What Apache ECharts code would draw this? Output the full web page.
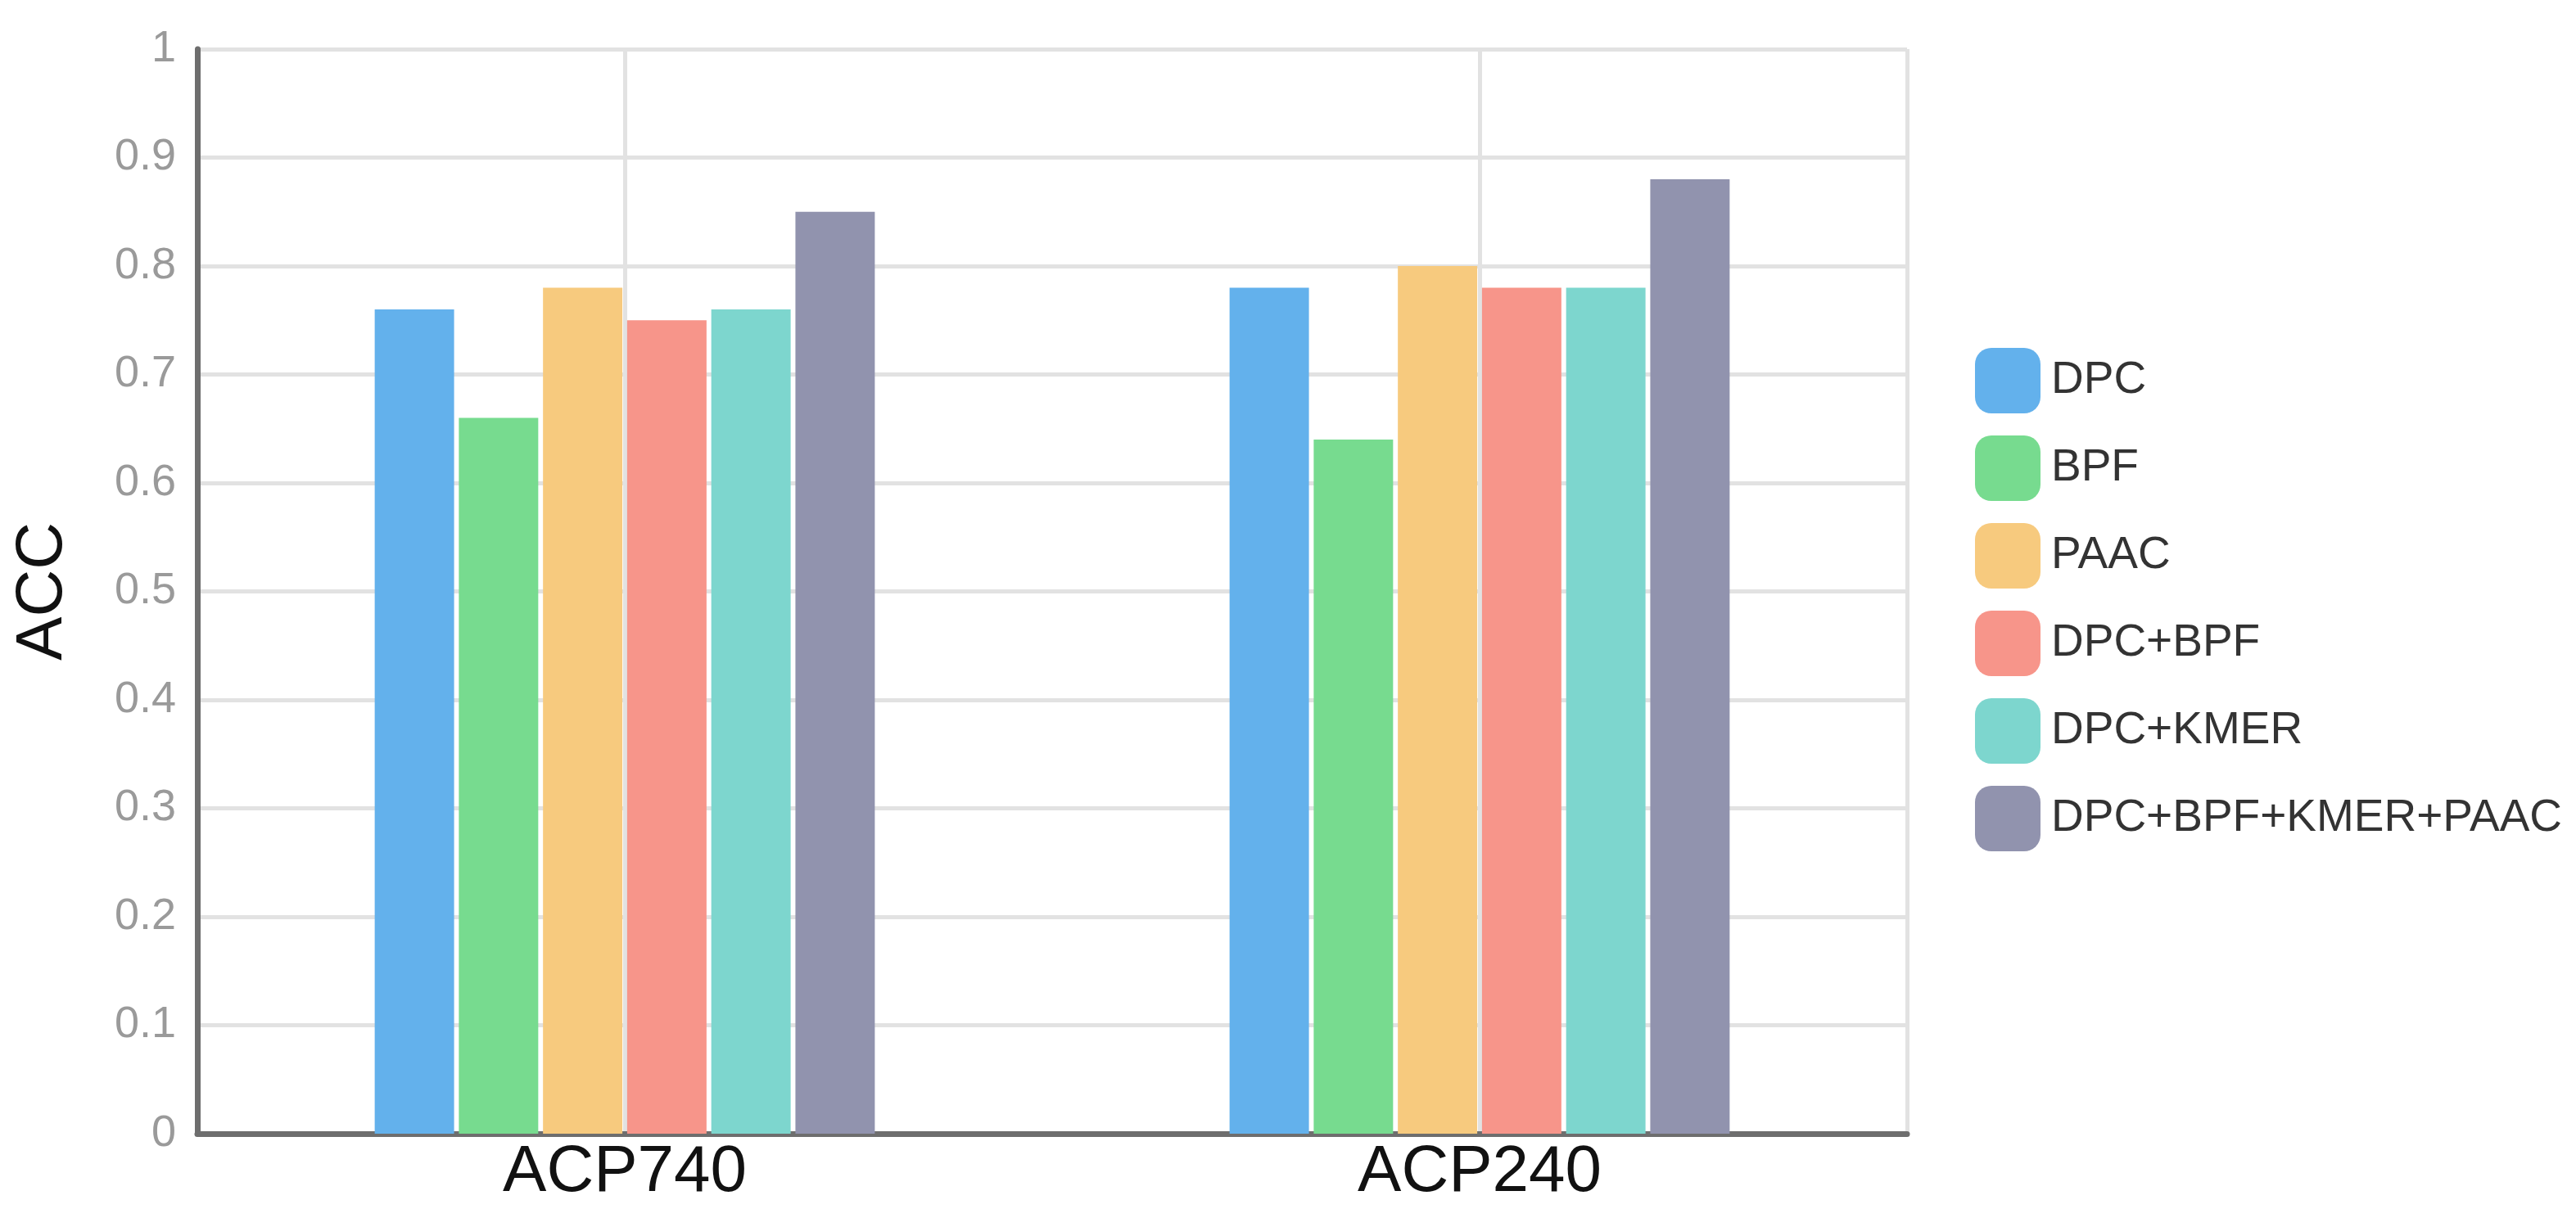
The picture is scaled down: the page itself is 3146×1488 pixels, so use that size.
<!DOCTYPE html>
<html>
<head>
<meta charset="utf-8">
<script src="https://cdn.jsdelivr.net/npm/echarts@6/dist/echarts.min.js"></script>
<style>
html,body{margin:0;padding:0;background:#fff;}
#chart{width:3146px;height:1488px;}
</style>
</head>
<body>
<div id="chart"></div>
<script>
const categories = ['ACP740', 'ACP240'];
const seriesNames = ['DPC', 'BPF', 'PAAC', 'DPC+BPF', 'DPC+KMER', 'DPC+BPF+KMER+PAAC'];
const DPC = [0.76, 0.78];
const BPF = [0.66, 0.64];
const PAAC = [0.78, 0.80];
const DPC_BPF = [0.75, 0.78];
const DPC_KMER = [0.76, 0.78];
const ALL = [0.85, 0.88];
const colors = ['#63b1ec', '#77db8f', '#f7ca7e', '#f7958a', '#7dd6ce', '#9193ae'];

const values = [DPC, BPF, PAAC, DPC_BPF, DPC_KMER, ALL];

const chart = echarts.init(document.getElementById('chart'), null, {renderer: 'canvas'});
const font = '"Liberation Sans", Arial, sans-serif';

chart.setOption({
  backgroundColor: '#ffffff',
  animation: false,
  color: colors,
  textStyle: {fontFamily: font},
  grid: {left: 241, right: 817, top: 60, bottom: 103, containLabel: false},
  legend: {
    orient: 'vertical',
    left: 2412,
    top: 425,
    itemWidth: 80,
    itemHeight: 80,
    itemGap: 27,
    icon: 'roundRect',
    padding: 0,
    data: seriesNames,
    textStyle: {fontSize: 55, color: '#333', fontFamily: font, padding: [0, 0, 0, 8]}
  },
  xAxis: [{
    type: 'category',
    data: categories,
    axisLine: {show: true, lineStyle: {color: '#6e6e6e', width: 7}},
    axisTick: {show: false},
    axisLabel: {fontSize: 80, color: '#111', margin: 8, fontFamily: font},
    splitLine: {show: false}
  }, {
    type: 'value',
    min: 0,
    max: 4,
    interval: 1,
    position: 'top',
    axisLine: {show: false},
    axisTick: {show: false},
    axisLabel: {show: false},
    splitLine: {show: true, lineStyle: {color: ['rgba(0,0,0,0)', '#e2e2e2', 'rgba(0,0,0,0)', '#e2e2e2', '#e2e2e2'], width: 5}}
  }],
  yAxis: {
    type: 'value',
    min: 0,
    max: 1,
    interval: 0.1,
    name: 'ACC',
    nameLocation: 'middle',
    nameRotate: 90,
    nameGap: 148,
    nameTextStyle: {fontSize: 80, color: '#111', fontFamily: font},
    axisLine: {show: true, lineStyle: {color: '#6e6e6e', width: 7}},
    axisTick: {show: false},
    axisLabel: {fontSize: 54, color: '#9a9a9a', margin: 26, fontFamily: font},
    splitLine: {show: true, lineStyle: {color: '#e2e2e2', width: 5}}
  },
  series: seriesNames.map((name, i) => ({
    name: name,
    type: 'bar',
    xAxisIndex: 0,
    data: values[i],
    barGap: '6%',
    barCategoryGap: '41.5%',
    itemStyle: {color: colors[i]}
  }))
});
</script>
</body>
</html>
